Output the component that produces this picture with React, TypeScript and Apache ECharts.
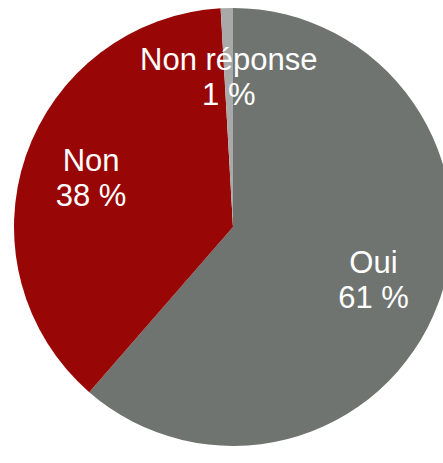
import React, { useEffect, useRef } from "react";
import * as echarts from "echarts";

const categories = ["Oui", "Non", "Non réponse"];
const values = [61.4, 37.7, 0.9];
const colors = ["#6f7471", "#990606", "#a9a9a9"];

export default function App() {
  const ref = useRef<HTMLDivElement>(null);
  useEffect(() => {
    if (!ref.current) return;
    const chart = echarts.init(ref.current, null, { renderer: "svg" });
    const data = categories.map((name, i) => ({
      name,
      value: values[i],
      itemStyle: { color: colors[i] },
    }));
    chart.setOption({
      animation: false,
      series: [
        {
          type: "pie",
          center: [233, 227],
          radius: [0, 219],
          startAngle: 90,
          clockwise: true,
          data,
          label: { show: false },
          labelLine: { show: false },
          itemStyle: { borderWidth: 0 },
          emphasis: { disabled: true },
          silent: true,
        },
        {
          type: "pie",
          center: [233, 227],
          radius: [75, 219],
          startAngle: 90,
          clockwise: true,
          data: categories.map((name, i) => ({
            name,
            value: values[i],
            itemStyle: { color: "rgba(0,0,0,0)" },
          })),
          itemStyle: { borderWidth: 0 },
          emphasis: { disabled: true },
          silent: true,
          label: {
            show: true,
            position: "inside",
            color: "#ffffff",
            fontFamily: "Liberation Sans, Arial, sans-serif",
            fontSize: 31,
            lineHeight: 35,
            align: "center",
            formatter: (p: any) => `${p.name}\n${Math.round(p.value)} %`,
          },
          labelLine: { show: false },
        },
      ],
    });
    return () => chart.dispose();
  }, []);
  return (
    <div
      ref={ref}
      style={{ position: "absolute", left: 0, top: 0, width: 443, height: 463, background: "#ffffff" }}
    />
  );
}
